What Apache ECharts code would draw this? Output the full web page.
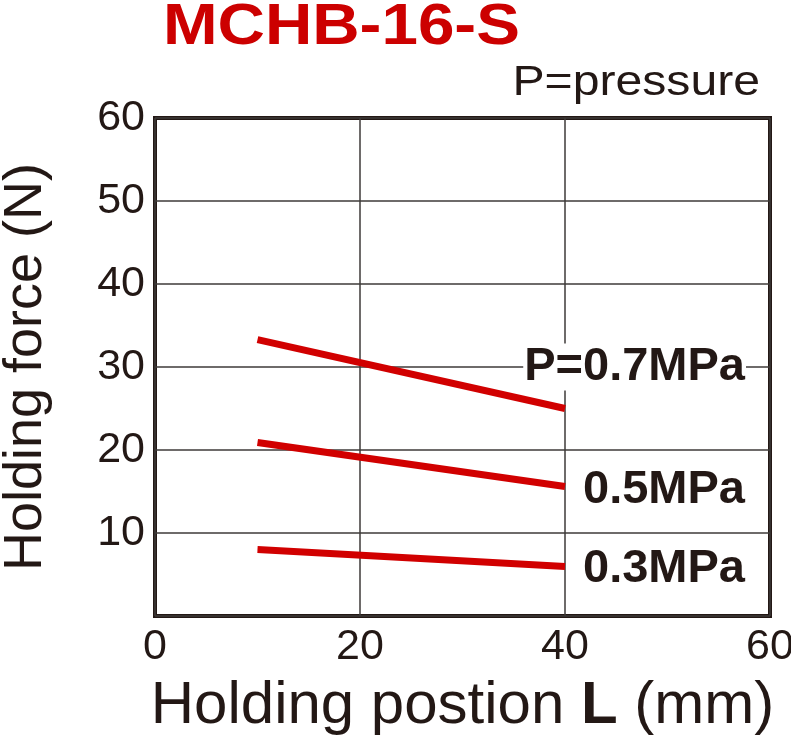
<!DOCTYPE html>
<html><head><meta charset="utf-8">
<script src="https://cdn.jsdelivr.net/npm/echarts@6/dist/echarts.min.js"></script>
<style>html,body{margin:0;padding:0;background:#fff}#c{width:791px;height:736px}</style>
</head><body><div id="c"></div>
<script>
const chartTitle = 'MCHB-16-S';
const noteText = 'P=pressure';
const seriesNames = ['P=0.7MPa', '0.5MPa', '0.3MPa'];
const positions = [10, 40];
const force07 = [33.3, 25.0];
const force05 = [20.9, 15.6];
const force03 = [8.0, 5.95];
const labelForce = [30.0, 15.15, 5.6];
const xTickLabels = ['0', '20', '40', '60'];
const yTickLabels = ['10', '20', '30', '40', '50', '60'];

const FONT = '"Liberation Sans", Arial, Helvetica, sans-serif';
const INK = '#231815';
const RED = '#d10000';

const allForces = [force07, force05, force03];
const series = allForces.map((vals, i) => ({
  name: seriesNames[i],
  type: 'line',
  symbol: 'none',
  silent: true,
  lineStyle: { width: 7, color: RED, cap: 'butt' },
  data: positions.map((p, j) => [p, vals[j]]),
  markPoint: {
    symbol: 'rect',
    symbolSize: 0,
    silent: true,
    data: [{ coord: [60, labelForce[i]] }],
    label: {
      show: true,
      position: 'left',
      distance: 24,
      formatter: seriesNames[i],
      fontFamily: FONT,
      fontWeight: 'bold',
      fontSize: 47,
      color: INK,
      backgroundColor: '#fff',
      padding: [0, 1]
    }
  }
}));

const chart = echarts.init(document.getElementById('c'), null, { renderer: 'canvas' });
chart.setOption({
  backgroundColor: '#fff',
  animation: false,
  graphic: [
    { type: 'text', x: 163, y: 0, scaleX: 1.15, style: { text: chartTitle, font: 'bold 57px ' + FONT, fill: '#cc0000', textAlign: 'left', textVerticalAlign: 'top' } },
    { type: 'text', x: 760, y: 62, scaleX: 1.12, style: { text: noteText, font: '43px ' + FONT, fill: INK, textAlign: 'right', textVerticalAlign: 'top' } }
  ],
  grid: {
    left: 155, right: 21, top: 118, bottom: 120,
    outerBoundsMode: 'none', containLabel: false,
    show: true, borderWidth: 4, borderColor: INK, backgroundColor: 'transparent'
  },
  xAxis: {
    type: 'value', min: 0, max: 60, interval: 20,
    axisLine: { show: false }, axisTick: { show: false },
    splitLine: { show: true, lineStyle: { color: '#3e3a39', width: 1.5 } },
    axisLabel: {
      margin: 10, fontFamily: FONT, fontSize: 43, color: INK,
      formatter: v => xTickLabels.includes(String(v)) ? String(v) : ''
    },
    name: '{a|Holding postion }{b|L}{a| (mm)}',
    nameLocation: 'middle', nameGap: 60,
    nameTextStyle: {
      rich: {
        a: { fontFamily: FONT, fontSize: 60, color: INK },
        b: { fontFamily: FONT, fontSize: 60, fontWeight: 'bold', color: INK }
      }
    }
  },
  yAxis: {
    type: 'value', min: 0, max: 60, interval: 10,
    axisLine: { show: false }, axisTick: { show: false },
    splitLine: { show: true, lineStyle: { color: '#3e3a39', width: 1.5 } },
    axisLabel: {
      margin: 10, fontFamily: FONT, fontSize: 43, color: INK,
      formatter: v => yTickLabels.includes(String(v)) ? String(v) : ''
    },
    name: 'Holding force (N)',
    nameLocation: 'middle', nameGap: 102, nameRotate: 90,
    nameTextStyle: { fontFamily: FONT, fontSize: 54, color: INK }
  },
  series: series
});
</script>
</body></html>
